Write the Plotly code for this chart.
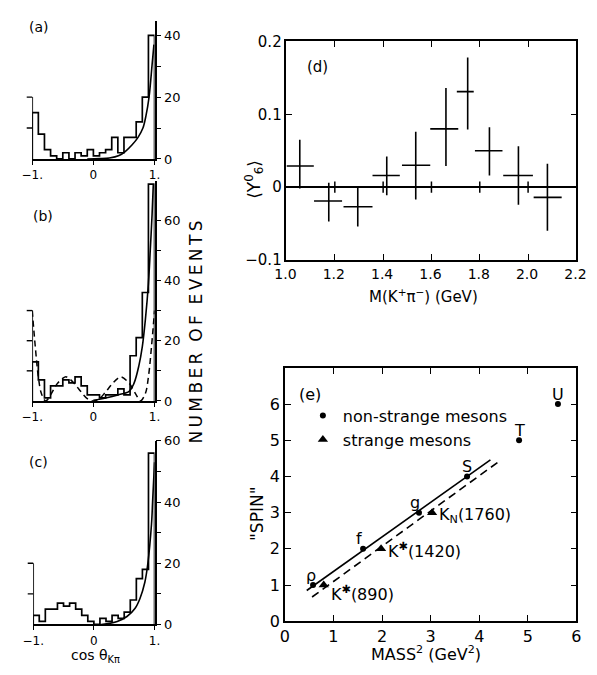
import plotly.graph_objects as go

W, H = 597, 675
FONT = "DejaVu Sans"

# ---------------- data ----------------
BIN_EDGES = [-1.0, -0.9, -0.8, -0.7, -0.6, -0.5, -0.4, -0.3, -0.2, -0.1, 0.0,
             0.1, 0.2, 0.3, 0.4, 0.5, 0.6, 0.7, 0.8, 0.9, 1.0]
COUNTS_A = [15, 8, 3, 1, 0, 2, 0, 2, 1, 3, 1, 2, 3, 7, 2, 7, 7, 12, 20, 40]
COUNTS_B = [13, 7, 1, 5, 5, 7, 6, 8, 5, 2, 2, 1, 2, 2, 4, 2, 15, 21, 36, 72]
COUNTS_C = [3, 1, 5, 5, 7, 6, 7, 5, 3, 1, 0, 2, 1, 3, 2, 4, 8, 15, 18, 56]

FIT_A_X = [-0.1, 0.1, 0.26, 0.42, 0.52, 0.63, 0.73, 0.81, 0.86, 0.91, 0.96, 0.99]
FIT_A_Y = [0, 0.1, 0.3, 1.1, 2.4, 4.5, 7, 10, 14, 20, 30.5, 37]
FIT_B_X = [0.0, 0.2, 0.4, 0.585, 0.665, 0.745, 0.8, 0.85, 0.9, 0.93, 0.96, 0.98]
FIT_B_Y = [0.2, 1.0, 2.0, 3.2, 5.9, 11.8, 18, 27, 39, 50, 62, 72]
DASH_B_X = [-1.0, -0.95, -0.9, -0.85, -0.78, -0.7, -0.6, -0.5, -0.45, -0.4, -0.3, -0.2,
            -0.1, 0.0, 0.1, 0.2, 0.3, 0.4, 0.45, 0.5, 0.6, 0.7, 0.77, 0.85, 0.9, 0.95, 1.0]
DASH_B_Y = [30, 18, 8, 2.5, 0, 2, 5.5, 7.5, 8, 7.5, 5.5, 3,
            0.8, 0, 0.8, 3, 5.5, 7.5, 8, 7.5, 5.5, 2, 0, 2.5, 8, 18, 30]
FIT_C_X = [0.12, 0.385, 0.545, 0.68, 0.76, 0.84, 0.89, 0.95, 0.97, 1.0]
FIT_C_Y = [0, 1, 2.6, 5.3, 8.5, 13.8, 20, 32.8, 41, 53]

HIST_TICKS_A = [0, 10, 20, 30, 40]
HIST_TICKS_BC = [0, 10, 20, 30, 40, 50, 60]

# panel (d)
M_KPI = [1.055, 1.175, 1.295, 1.415, 1.535, 1.66, 1.75, 1.84, 1.96, 2.08]
Y60 = [0.029, -0.019, -0.027, 0.016, 0.030, 0.080, 0.131, 0.050, 0.016, -0.014]
Y60_ERR_UP = [0.036, 0.025, 0.027, 0.026, 0.046, 0.056, 0.047, 0.032, 0.040, 0.046]
Y60_ERR_DN = [0.031, 0.028, 0.027, 0.027, 0.047, 0.051, 0.052, 0.034, 0.040, 0.046]
M_HALF_L = [0.055, 0.061, 0.059, 0.059, 0.057, 0.065, 0.045, 0.06, 0.063, 0.057]
M_HALF_R = [0.058, 0.055, 0.061, 0.054, 0.060, 0.051, 0.025, 0.054, 0.060, 0.059]
D_XTICKS = [1.0, 1.2, 1.4, 1.6, 1.8, 2.0, 2.2]
D_XLABELS = ["1.0", "1.2", "1.4", "1.6", "1.8", "2.0", "2.2"]
D_YTICKS = [-0.1, 0, 0.1, 0.2]
D_YLABELS = ["−0.1", "0", "0.1", "0.2"]
ZERO_TICKS = [1.2, 1.4, 1.6, 1.8, 2.0]

# panel (e)
NS_NAMES = ["ρ", "f", "g", "S", "T", "U"]
NS_MASS2 = [0.58, 1.61, 2.76, 3.75, 4.82, 5.62]
NS_SPIN = [1, 2, 3, 4, 5, 6]
ST_NAMES = ["K<sup>✱</sup>(890)", "K<sup>✱</sup>(1420)", "K<sub>N</sub>(1760)"]
ST_MASS2 = [0.80, 1.98, 3.03]
ST_SPIN = [1, 2, 3]
SOLID_LINE_X = [0.45, 4.23]
SOLID_LINE_Y = [0.85, 4.46]
DASH_LINE_X = [0.56, 4.41]
DASH_LINE_Y = [0.67, 4.42]

fig = go.Figure()
BLK = "black"


def step_xy(edges, counts):
    xs = [edges[0]] + list(edges) + [edges[-1]]
    ys = [0] + list(counts) + [counts[-1], 0]
    return xs, ys


def dx(p):
    return p / W


def dy(p):
    return 1 - p / H


hist_panels = [
    ("x", "y", COUNTS_A, 44.7, HIST_TICKS_A, 20, (21, 148), (154.3, 12.1)),
    ("x2", "y2", COUNTS_B, 73.0, HIST_TICKS_BC, 30, (21, 148), (403.3, 177.0)),
    ("x3", "y3", COUNTS_C, 60.0, HIST_TICKS_BC, 20, (22, 148), (633.3, 444.3)),
]

for i, (xa, ya, counts, ymax, ticks, lefttop, xd, yd) in enumerate(hist_panels):
    xs, ys = step_xy(BIN_EDGES, counts)
    fig.add_trace(go.Scatter(x=xs, y=ys, mode="lines", line=dict(color=BLK, width=1.7, shape="hv"),
                             xaxis=xa, yaxis=ya, showlegend=False, hoverinfo="skip"))
    n = "" if i == 0 else str(i + 1)
    fig.layout["xaxis" + n] = dict(
        domain=[dx(xd[0]), dx(xd[1])], range=[-1, 1], anchor=ya,
        showline=True, linecolor=BLK, linewidth=1.7, ticks="outside", ticklen=4,
        tickwidth=1.4, tickcolor=BLK, tickvals=[-1, 0, 1], ticktext=["−1.", "0", "1."],
        tickfont=dict(size=12, family=FONT, color=BLK), showgrid=False, zeroline=False,
    )
    fig.layout["yaxis" + n] = dict(
        domain=[dy(yd[0]), dy(yd[1])], range=[0, ymax], anchor=xa, side="right",
        showline=True, linecolor=BLK, linewidth=1.7, ticks="outside", ticklen=5,
        tickwidth=1.4, tickcolor=BLK, tickvals=ticks,
        ticktext=[str(t) if t % 20 == 0 else "" for t in ticks],
        tickfont=dict(size=13, family=FONT, color=BLK), showgrid=False, zeroline=False,
    )
    fig.add_shape(type="line", xref=xa, yref=ya, x0=-1, x1=-1, y0=0, y1=lefttop,
                  line=dict(color=BLK, width=1.7))
    for t in range(10, lefttop + 1, 10):
        fig.add_shape(type="line", xref=xa + " domain", yref=ya, x0=-0.045, x1=0, y0=t, y1=t,
                      line=dict(color=BLK, width=1.4))

fig.add_trace(go.Scatter(x=FIT_A_X, y=FIT_A_Y, mode="lines", line=dict(color=BLK, width=1.6, shape="spline"),
                         xaxis="x", yaxis="y", showlegend=False))
fig.add_trace(go.Scatter(x=FIT_B_X, y=FIT_B_Y, mode="lines", line=dict(color=BLK, width=1.6, shape="spline"),
                         xaxis="x2", yaxis="y2", showlegend=False))
fig.add_trace(go.Scatter(x=DASH_B_X, y=DASH_B_Y, mode="lines",
                         line=dict(color=BLK, width=1.5, dash="6px,4px", shape="spline"),
                         xaxis="x2", yaxis="y2", showlegend=False))
fig.add_trace(go.Scatter(x=FIT_C_X, y=FIT_C_Y, mode="lines", line=dict(color=BLK, width=1.6, shape="spline"),
                         xaxis="x3", yaxis="y3", showlegend=False))

# ---------------- panel (d) ----------------
fig.add_trace(go.Scatter(
    x=M_KPI, y=Y60, mode="markers", marker=dict(size=1, color=BLK),
    error_y=dict(type="data", symmetric=False, array=Y60_ERR_UP, arrayminus=Y60_ERR_DN,
                 width=0, thickness=1.6, color=BLK),
    error_x=dict(type="data", symmetric=False, array=M_HALF_R, arrayminus=M_HALF_L,
                 width=0, thickness=1.6, color=BLK),
    xaxis="x4", yaxis="y4", showlegend=False))
fig.add_trace(go.Scatter(
    x=ZERO_TICKS, y=[0] * len(ZERO_TICKS), mode="markers",
    marker=dict(symbol="line-ns", size=8, line=dict(width=1.5, color=BLK)),
    xaxis="x4", yaxis="y4", showlegend=False, hoverinfo="skip"))

fig.layout["xaxis4"] = dict(
    domain=[dx(285), dx(586)], range=[1.0, 2.2], anchor="y4",
    showline=True, mirror="ticks", linecolor=BLK, linewidth=1.6, ticks="inside", ticklen=6,
    tickwidth=1.4, tickcolor=BLK, tickvals=D_XTICKS, ticktext=D_XLABELS,
    tickfont=dict(size=14, family=FONT, color=BLK), showgrid=False, zeroline=False,
    ticklabelshift=-1)
fig.layout["yaxis4"] = dict(
    domain=[dy(258.3), dy(33.3)], range=[-0.1, 0.2], anchor="x4",
    showline=True, mirror="ticks", linecolor=BLK, linewidth=1.6, ticks="inside", ticklen=6,
    tickwidth=1.4, tickcolor=BLK, tickvals=D_YTICKS, ticktext=D_YLABELS,
    tickfont=dict(size=15, family=FONT, color=BLK), showgrid=False,
    zeroline=True, zerolinecolor=BLK, zerolinewidth=1.6)

# ---------------- panel (e) ----------------
fig.add_trace(go.Scatter(x=SOLID_LINE_X, y=SOLID_LINE_Y, mode="lines", line=dict(color=BLK, width=1.6),
                         xaxis="x5", yaxis="y5", showlegend=False))
fig.add_trace(go.Scatter(x=DASH_LINE_X, y=DASH_LINE_Y, mode="lines",
                         line=dict(color=BLK, width=1.6, dash="8px,5px"),
                         xaxis="x5", yaxis="y5", showlegend=False))
fig.add_trace(go.Scatter(x=NS_MASS2, y=NS_SPIN, mode="markers", name="non-strange mesons",
                         marker=dict(symbol="circle", size=6, color=BLK),
                         xaxis="x5", yaxis="y5", showlegend=True))
fig.add_trace(go.Scatter(x=ST_MASS2, y=ST_SPIN, mode="markers", name="strange mesons",
                         marker=dict(symbol="triangle-up", size=9, color=BLK),
                         xaxis="x5", yaxis="y5", showlegend=True))

fig.layout["xaxis5"] = dict(
    domain=[dx(283.3), dx(586)], range=[0, 6], anchor="y5",
    showline=True, mirror="ticks", linecolor=BLK, linewidth=1.6, ticks="inside", ticklen=6,
    tickwidth=1.4, tickcolor=BLK, tickvals=[0, 1, 2, 3, 4, 5, 6],
    tickfont=dict(size=16, family=FONT, color=BLK), showgrid=False, zeroline=False)
fig.layout["yaxis5"] = dict(
    domain=[dy(630), dy(369.3)], range=[0, 7], anchor="x5",
    showline=True, mirror="ticks", linecolor=BLK, linewidth=1.6, ticks="inside", ticklen=6,
    tickwidth=1.4, tickcolor=BLK, tickvals=[0, 1, 2, 3, 4, 5, 6],
    tickfont=dict(size=16, family=FONT, color=BLK), showgrid=False, zeroline=False)

NS_LABEL_DX = [-0.05, -0.09, -0.09, 0.0, 0.0, 0.0]
for name, mx, sp, ddx in zip(NS_NAMES, NS_MASS2, NS_SPIN, NS_LABEL_DX):
    fig.add_annotation(x=mx + ddx, y=sp, xref="x5", yref="y5", text=name, showarrow=False,
                       yanchor="middle", yshift=10, font=dict(size=16, family=FONT, color=BLK))
ST_LABEL_DY = [-8, -2, -3]
for name, mx, sp, sh in zip(ST_NAMES, ST_MASS2, ST_SPIN, ST_LABEL_DY):
    fig.add_annotation(x=mx, y=sp, xref="x5", yref="y5", text=name, showarrow=False,
                       xanchor="left", xshift=5, yanchor="middle", yshift=sh,
                       font=dict(size=16, family=FONT, color=BLK))


def ann(text, x, y, size=15, angle=0, xanchor="center"):
    fig.add_annotation(x=dx(x), y=dy(y), xref="paper", yref="paper", text=text, showarrow=False,
                       textangle=angle, xanchor=xanchor, yanchor="middle",
                       font=dict(size=size, family=FONT, color=BLK))


TS = "\u2009"
ann("(a)", 28, 19, 14)
ann("(b)", 32, 213, 14)
ann("(c)", 27, 466, 14)
ann("(d)", 317, 60, 15)
ann("(e)", 309, 397, 16)
ann(TS.join("NUMBER") + "  " + TS.join("OF") + "  " + TS.join("EVENTS"), 191, 332, 17, -90)
ann("cos θ<sub>Kπ</sub>", 87, 666, 14)
ann("⟨Y<sup>0</sup><sub>6</sub>⟩", 251, 175, 17, -90)
ann("M(K<sup>+</sup>π<sup>−</sup>) (GeV)", 427, 295, 15)
ann("MASS<sup>2</sup> (GeV<sup>2</sup>)", 430, 663, 16)
ann("\"SPIN\"", 255, 520, 17, -90)

fig.update_layout(
    width=W, height=H, margin=dict(l=0, r=0, t=0, b=0),
    paper_bgcolor="white", plot_bgcolor="white",
    font=dict(family=FONT, color=BLK), hovermode=False,
    legend=dict(x=dx(302), y=dy(401), xanchor="left", yanchor="top", bgcolor="rgba(0,0,0,0)",
                font=dict(size=16, family=FONT, color=BLK), itemwidth=30, tracegroupgap=0),
)

fig.write_html("out.html", config={"displayModeBar": False},
               post_script="document.body.style.margin='0px';")
